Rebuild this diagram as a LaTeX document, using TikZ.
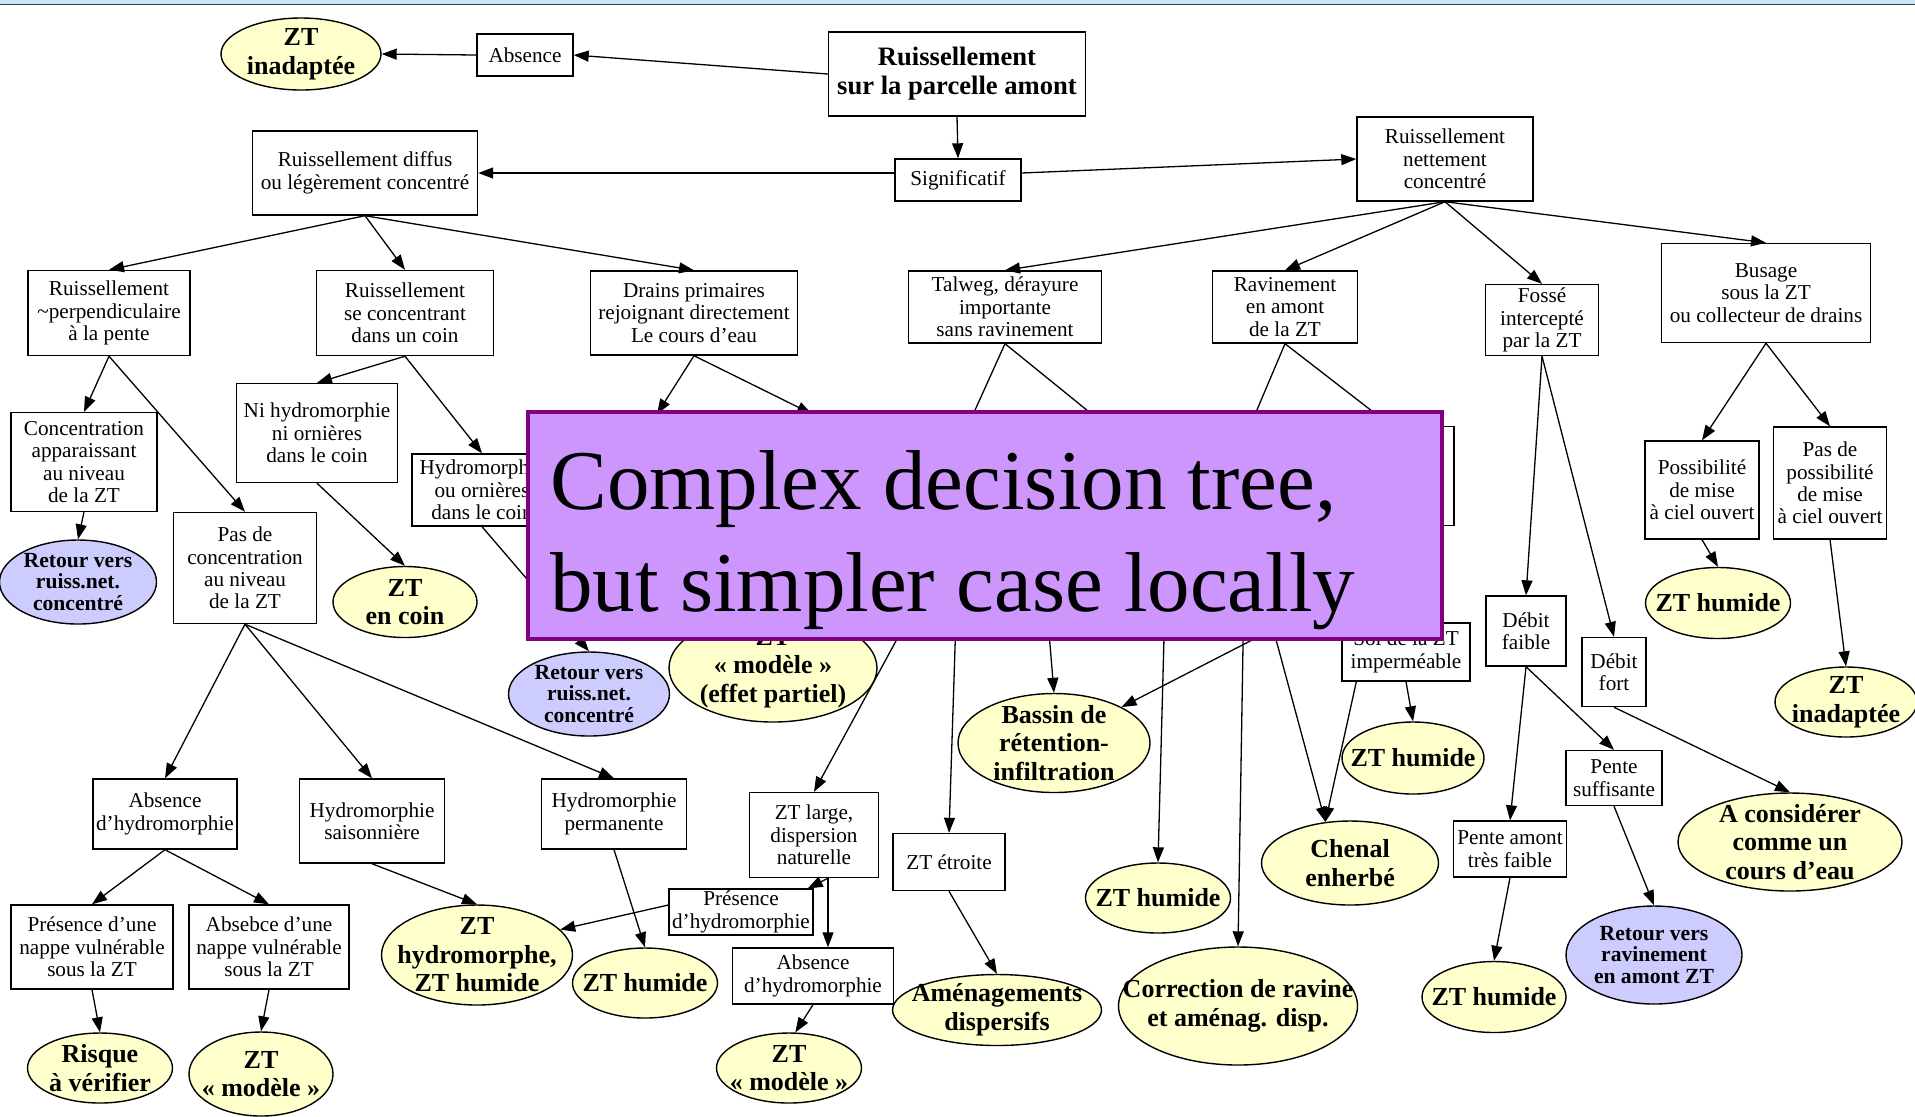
\documentclass[tikz,border=0pt]{standalone}
\usepackage{fontspec}
\setmainfont{Liberation Serif}
\usetikzlibrary{calc,positioning,shapes.geometric,arrows.meta}

\definecolor{leafyellow}{RGB}{255,255,204}
\definecolor{leafblue}{RGB}{204,204,255}
\definecolor{notefill}{RGB}{204,150,252}
\definecolor{noteedge}{RGB}{128,0,128}
\definecolor{bandblue}{RGB}{200,228,247}

\tikzset{
  wh/.style 2 args={minimum width=#1*0.5pt, minimum height=#2*0.5pt},
  box/.style={draw, line width=0.7pt, fill=white, rectangle, inner xsep=1pt, inner ysep=1pt,
    align=center, font={\fontsize{10.6}{11.2}\selectfont}},
  leaf/.style={draw, line width=0.7pt, ellipse, fill=leafyellow, inner xsep=-40pt, inner ysep=-25pt,
    align=center, font={\fontsize{13}{14.3}\selectfont\bfseries}},
  back/.style={leaf, fill=leafblue, font={\fontsize{10.8}{10.9}\selectfont\bfseries}},
  arr/.style={-{Triangle[length=7.5pt,width=5.5pt]}, line width=0.65pt},
}

\begin{document}
\begin{tikzpicture}[x=0.5pt, y=-0.5pt]
    \useasboundingbox (0,0) rectangle (1915,1116);
    \fill[bandblue] (0,0) rectangle (1915,3.6);
    \draw[line width=0.8pt, black!75] (0,4.4) -- (1915,4.4);

    \node[leaf, wh={160}{72}] (inadapte_haut) at (301,54) {ZT\\inadaptée};
    \node[box, wh={96}{42}] (absence) at (525,55) {Absence};
    \node[box, wh={257}{84}, font={\fontsize{13.3}{14.5}\selectfont\bfseries}] (amont) at (957,74)
      {Ruissellement\\sur la parcelle amont};
    \node[box, wh={126}{42}] (significatif) at (958,180) {Significatif};
    \node[box, wh={225}{84}] (diffus) at (365,173) {Ruissellement diffus\\ou légèrement concentré};
    \node[box, wh={176}{84}] (nettement) at (1445,159) {Ruissellement\\nettement\\concentré};

    \node[box, wh={162}{85}] (perpendiculaire) at (109,313)
      {Ruissellement\\\textasciitilde perpendiculaire\\à la pente};
    \node[box, wh={177}{85}] (coin) at (405,313) {Ruissellement\\se concentrant\\dans un coin};
    \node[box, wh={207}{84}] (drains) at (694,313)
      {Drains primaires\\rejoignant directement\\Le cours d'eau};
    \node[box, wh={193}{72}] (talweg) at (1005,307) {Talweg, dérayure\\importante\\sans ravinement};
    \node[box, wh={145}{72}] (ravinement) at (1285,307) {Ravinement\\en amont\\de la ZT};
    \node[box, wh={113}{71}] (fosse) at (1542,320) {Fossé\\intercepté\\par la ZT};
    \node[box, wh={209}{99}] (busage) at (1766,293) {Busage\\sous la ZT\\ou collecteur de drains};

    \node[box, wh={146}{99}] (concentration) at (84,462) {Concentration\\apparaissant\\au niveau\\de la ZT};
    \node[box, wh={161}{99}] (ni_hydro) at (317,433) {Ni hydromorphie\\ni ornières\\dans le coin};
    \node[box, wh={140}{72}] (hydro_ornieres) at (482,490) {Hydromorphie\\ou ornières\\dans le coin};
    \node[box, wh={143}{111}] (pas_concentration) at (245,568) {Pas de\\concentration\\au niveau\\de la ZT};
    \node[box, wh={126}{99}] (ravinement_droite) at (1391,476) {};
    \node[back, wh={157}{84}] (retour_gauche) at (78,582) {Retour vers\\ruiss.net.\\concentré};
    \node[leaf, wh={144}{71}] (zt_coin) at (405,602) {ZT\\en coin};
    \node[back, wh={161}{84}] (retour_milieu) at (589,694) {Retour vers\\ruiss.net.\\concentré};
    \node[leaf, wh={208}{108}] (modele_partiel) at (773,668) {ZT\\« modèle »\\(effet partiel)};

    \node[box, wh={144}{70}] (absence_hydro) at (165,814) {Absence\\d'hydromorphie};
    \node[box, wh={145}{84}] (saisonniere) at (372,821) {Hydromorphie\\saisonnière};
    \node[box, wh={145}{70}] (permanente) at (614,814) {Hydromorphie\\permanente};
    \node[box, wh={162}{84}] (presence_nappe) at (92,947) {Présence d'une\\nappe vulnérable\\sous la ZT};
    \node[box, wh={160}{84}] (absence_nappe) at (269,947) {Absebce d'une\\nappe vulnérable\\sous la ZT};
    \node[leaf, wh={145}{70}] (risque) at (100,1068) {Risque\\à vérifier};
    \node[leaf, wh={144}{84}] (modele_gauche) at (261,1074) {ZT\\« modèle »};
    \node[leaf, wh={191}{100}] (hydromorphe) at (477,955) {ZT\\hydromorphe,\\ZT humide};
    \node[leaf, wh={145}{70}] (humide_permanente) at (645,983) {ZT humide};

    \node[box, wh={129}{85}] (zt_large) at (814,835) {ZT large,\\dispersion\\naturelle};
    \node[box, wh={144}{42}] (presence_hydro) at (741,912) {Présence\\d'hydromorphie};
    \node[box, wh={161}{56}] (absence_hydro_m) at (813,976) {Absence\\d'hydromorphie};
    \node[leaf, wh={145}{70}] (modele_milieu) at (789,1068) {ZT\\« modèle »};
    \node[box, wh={112}{57}] (zt_etroite) at (949,862) {ZT étroite};
    \node[leaf, wh={209}{71}] (amenagements) at (997,1010) {Aménagements\\dispersifs};
    \node[leaf, wh={192}{99}] (bassin) at (1054,743) {Bassin de\\rétention-\\infiltration};
    \node[leaf, wh={145}{70}] (humide_milieu) at (1158,898) {ZT humide};
    \node[leaf, wh={239}{118}] (correction) at (1238,1006) {Correction de ravine\\et aménag. disp.};
    \node[leaf, wh={177}{84}] (chenal) at (1350,863) {Chenal\\enherbé};
    \node[box, wh={128}{58}] (sol) at (1406,652) {Sol de la ZT\\imperméable};
    \node[leaf, wh={142}{72}] (humide_sol) at (1413,758) {ZT humide};

    \node[box, wh={80}{70}] (debit_faible) at (1526,631) {Débit\\faible};
    \node[box, wh={64}{69}] (debit_fort) at (1614,672) {Débit\\fort};
    \node[box, wh={113}{56}] (pente_faible) at (1510,849) {Pente amont\\très faible};
    \node[box, wh={96}{55}] (pente_suff) at (1614,778) {Pente\\suffisante};
    \node[leaf, wh={144}{71}] (humide_pente) at (1494,997) {ZT humide};
    \node[back, wh={176}{98}] (retour_ravinement) at (1654,955) {Retour vers\\ravinement\\en amont ZT};
    \node[leaf, wh={224}{98}] (cours_eau) at (1790,842) {A considérer\\comme un\\cours d'eau};
    \node[box, wh={114}{98}] (possible) at (1702,490) {Possibilité\\de mise\\à ciel ouvert};
    \node[box, wh={113}{112}] (pas_possible) at (1830,483) {Pas de\\possibilité\\de mise\\à ciel ouvert};
    \node[leaf, wh={145}{71}] (humide_busage) at (1718,603) {ZT humide};
    \node[leaf, wh={142}{70}] (inadapte_droite) at (1846,702) {ZT\\inadaptée};

    \coordinate (drain_g) at (657,414);
    \coordinate (drain_d) at (812,414);
    \coordinate (talweg_g) at (957,450);
    \coordinate (talweg_d) at (1136,450);
    \coordinate (ravin_g) at (1240,450);
    \coordinate (cache_a) at (959,525);
    \coordinate (cache_b) at (1040,525);
    \coordinate (cache_c) at (1167,525);
    \coordinate (cache_d) at (1245,525);
    \coordinate (cache_e) at (1330,600);
    \coordinate (zt_large_pied) at ($(zt_large.south)+(14,0)$);

    \draw[arr] (amont.west) -- (absence.east);
    \draw[arr] (absence.west) -- (inadapte_haut.east);
    \draw[arr] (amont.south) -- (significatif.north);
    \draw[arr] (significatif.west |- diffus.east) -- (diffus.east);
    \draw[arr] ($(significatif.east)+(0,-7)$) -- (nettement.west);
    \foreach \child in {perpendiculaire,coin,drains}
      \draw[arr] (diffus.south) -- (\child.north);
    \foreach \child in {talweg,ravinement,fosse,busage}
      \draw[arr] (nettement.south) -- (\child.north);

    \draw[arr] (perpendiculaire.south) -- (concentration.north);
    \draw[arr] (perpendiculaire.south) -- (pas_concentration.north);
    \draw[arr] (coin.south) -- (ni_hydro.north);
    \draw[arr] (coin.south) -- (hydro_ornieres.north);
    \draw[arr] (concentration.south) -- (retour_gauche.north);
    \draw[arr] (ni_hydro.south) -- (zt_coin.north);
    \draw[arr] (hydro_ornieres.south) -- (retour_milieu.north);
    \foreach \child in {absence_hydro,saisonniere,permanente}
      \draw[arr] (pas_concentration.south) -- (\child.north);
    \draw[arr] (absence_hydro.south) -- (presence_nappe.north);
    \draw[arr] (absence_hydro.south) -- (absence_nappe.north);
    \draw[arr] (presence_nappe.south) -- (risque.north);
    \draw[arr] (absence_nappe.south) -- (modele_gauche.north);
    \draw[arr] (saisonniere.south) -- (hydromorphe.north);
    \draw[arr] (permanente.south) -- (humide_permanente.north);

    \draw[arr] (drains.south) -- (drain_g);
    \draw[arr] (drains.south) -- (drain_d);
    \draw[arr] (talweg.south) -- (talweg_g);
    \draw[arr] (talweg.south) -- (talweg_d);
    \draw[arr] (ravinement.south) -- (ravin_g);
    \draw[arr] (ravinement.south) -- (ravinement_droite.north);

    \draw[arr] (cache_a) -- (zt_large.north);
    \draw[arr] (cache_a) -- (zt_etroite.north);
    \draw[arr] (cache_b) -- (bassin.north);
    \draw[arr] (cache_c) -- (humide_milieu.north);
    \draw[arr] (cache_d) -- (correction.north);
    \draw[arr] (cache_d) -- (chenal.121);
    \draw[arr] (cache_e) -- (bassin.28);
    \draw[arr] ($(sol.south west)+(15,0)$) -- (chenal.121);
    \draw[arr] (sol.south) -- (humide_sol.north);

    \draw[arr] (zt_large_pied) -- ($(presence_hydro.north east)+(-6,0)$);
    \draw[arr] (zt_large_pied) -- (zt_large_pied |- absence_hydro_m.north);
    \draw[arr] ($(presence_hydro.west)+(0,-7)$) -- (hydromorphe.17);
    \draw[arr] (absence_hydro_m.south) -- (modele_milieu.80);
    \draw[arr] (zt_etroite.south) -- (amenagements.north);

    \draw[arr] (fosse.south) -- (debit_faible.north);
    \draw[arr] (fosse.south) -- (debit_fort.north);
    \draw[arr] (debit_faible.south) -- (pente_faible.north);
    \draw[arr] (debit_faible.south) -- (pente_suff.north);
    \draw[arr] (debit_fort.south) -- (cours_eau.north);
    \draw[arr] (pente_faible.south) -- (humide_pente.north);
    \draw[arr] (pente_suff.south) -- (retour_ravinement.north);
    \draw[arr] (busage.south) -- (possible.north);
    \draw[arr] (busage.south) -- (pas_possible.north);
    \draw[arr] (possible.south) -- (humide_busage.north);
    \draw[arr] (pas_possible.south) -- (inadapte_droite.north);

    \node[draw=noteedge, line width=2.2pt, fill=notefill, wh={914}{227}] (note) at (985,525.5) {};
    \node[anchor=north west, inner sep=0pt, align=left, font={\fontsize{42.5}{51}\selectfont}]
      (note_text) at (550,450) {Complex decision tree,\\but simpler case locally};
\end{tikzpicture}
\end{document}
